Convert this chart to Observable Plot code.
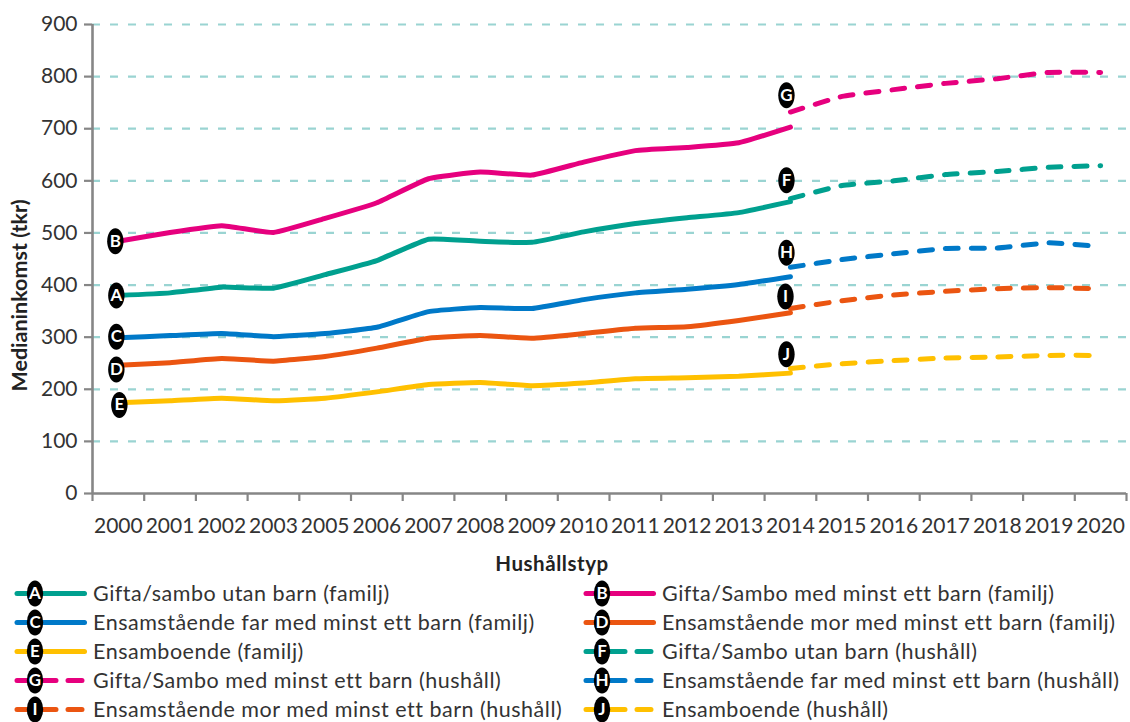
<!DOCTYPE html>
<html lang="sv"><head><meta charset="utf-8">
<script src="https://cdn.jsdelivr.net/npm/d3@7"></script>
<script src="https://cdn.jsdelivr.net/npm/@observablehq/plot@0.6"></script>
<style>
html,body{margin:0;padding:0;background:#fff;overflow:hidden;height:722px}
body{font-family:Lato,sans-serif;color:#333;width:1130px}
#t{position:absolute;left:0;width:1104px;top:551px;text-align:center;font:bold 20.5px Lato,sans-serif;letter-spacing:.55px;color:#222}
#l{position:absolute;left:0;top:579px;width:1130px;display:grid;grid-template-columns:569px 561px;grid-auto-rows:28.9px}
.i{display:flex;align-items:center;height:28.9px;font-size:21.5px;letter-spacing:.51px;white-space:nowrap;color:#333}
.i svg{flex:none;overflow:visible}
</style></head><body>
<div id="c"></div><div id="t">Hushållstyp</div><div id="l"></div>
<script>
const years=["2000","2001","2002","2003","2005","2006","2007","2008","2009","2010","2011","2012","2013","2014","2015","2016","2017","2018","2019","2020"];
const famYears=years.slice(0,14), hhYears=years.slice(13);
const yTicks=[0,100,200,300,400,500,600,700,800,900];
const gridTicks=yTicks.slice(1);
const teal="#00A08F",pink="#E6007E",blue="#0079C8",orange="#EB5511",yellow="#FFC000";
const A=[380,385,396,394,420,447,488,484,482,502,518,529,539,560];
const B=[484,501,514,501,528,558,604,617,611,636,658,664,673,703];
const C=[299,303,307,301,307,319,349,357,355,372,385,392,401,416];
const D=[246,251,259,254,263,279,298,303,298,307,317,320,332,347];
const E=[174,178,183,178,183,195,209,213,207,212,220,222,225,231];
const F=[566,591,600,612,618,626,629];
const G=[732,762,775,787,796,808,808];
const H=[434,449,460,470,471,481,474];
const I=[355,370,381,388,393,395,393];
const J=[240,249,255,260,262,265,265];
const letters=["A","B","C","D","E","F","G","H","I","J"];
const names=["Gifta/sambo utan barn (familj)","Gifta/Sambo med minst ett barn (familj)","Ensamstående far med minst ett barn (familj)","Ensamstående mor med minst ett barn (familj)","Ensamboende (familj)","Gifta/Sambo utan barn (hushåll)","Gifta/Sambo med minst ett barn (hushåll)","Ensamstående far med minst ett barn (hushåll)","Ensamstående mor med minst ett barn (hushåll)","Ensamboende (hushåll)"];
const colors=[teal,pink,blue,orange,yellow,teal,pink,blue,orange,yellow];
const values=[A,B,C,D,E,F,G,H,I,J];
const labelY=[380,484,301,238,170,601,764,462,378,267];
const labelX=["2000","2000","2000","2000","2000","2014","2014","2014","2014","2014"];
const labelDx=[-2,-3,-2,-2,1,-4,-4,-4,-5,-4];

const rows=letters.map((k,i)=>({k,i,color:colors[i],dashed:i>=5,pts:values[i].map((v,j)=>({x:(i<5?famYears:hhYears)[j],y:v,k,color:colors[i]}))}));
const labels=letters.map((k,i)=>({k,x:labelX[i],y:labelY[i],dx:labelDx[i]}));
const ellipse={draw(c,size){const rx=8.2,ry=13,kx=rx*.5523,ky=ry*.5523;
 c.moveTo(-rx,0);c.bezierCurveTo(-rx,-ky,-kx,-ry,0,-ry);c.bezierCurveTo(kx,-ry,rx,-ky,rx,0);c.bezierCurveTo(rx,ky,kx,ry,0,ry);c.bezierCurveTo(-kx,ry,-rx,ky,-rx,0);c.closePath();}};
const band=25.85;
const lineMarks=rows.map(r=>Plot.line(r.pts,{x:"x",y:"y",stroke:r.color,strokeWidth:5,curve:"cardinal",tension:.6,strokeLinecap:"round",strokeLinejoin:"round",...(r.dashed?{strokeDasharray:"13,13"}:{})}));
const labelMarks=labels.flatMap(l=>[
 Plot.dot([l],{x:"x",y:"y",dx:l.dx,symbol:ellipse,r:10,fill:"#000",stroke:"none"}),
 Plot.text([l],{x:"x",y:"y",dx:l.dx,text:"k",fill:"#fff",fontSize:17,fontWeight:"bold",fontFamily:"Lato,sans-serif"})
]);
const chart=Plot.plot({
 width:1130,height:545,marginLeft:92,marginRight:4,marginTop:24,marginBottom:52,
 style:{background:"#fff",fontFamily:"Lato,sans-serif",fontSize:"21px",color:"#333",overflow:"visible"},
 x:{type:"point",domain:years,padding:.5,round:false,label:null},
 y:{domain:[0,900],label:null},
 marks:[
  Plot.gridY(gridTicks,{stroke:"#9AD4D2",strokeOpacity:1,strokeWidth:2.2,strokeDasharray:"8,10"}),
  Plot.axisY({ticks:yTicks,tickSize:8,tickPadding:7,stroke:"#868686",strokeWidth:2.2,fill:"#333",strokeOpacity:1,label:null,tickFormat:d=>String(d)}),
  Plot.axisX({ticks:years,tickSize:8,text:null,label:null,dx:-band,stroke:"#868686",strokeWidth:2.2,strokeOpacity:1}),
  Plot.axisX({ticks:years.slice(-1),tickSize:8,text:null,label:null,dx:band,stroke:"#868686",strokeWidth:2.2,strokeOpacity:1}),
  Plot.axisX({ticks:years,tickSize:0,tickPadding:25,label:null,fill:"#333",stroke:"none"}),
  Plot.ruleX([0],{x:()=>years[0],dx:-band,y1:0,y2:900,stroke:"#868686",strokeWidth:2.6}),
  Plot.ruleY([0],{stroke:"#868686",strokeWidth:2.4}),
  ...lineMarks,
  ...labelMarks,
  Plot.text(["Medianinkomst (tkr)"],{frameAnchor:"left",textAnchor:"middle",text:d=>d,rotate:-90,dx:-72,dy:36.5,fontWeight:"bold",fontSize:21.5,fill:"#222",fontFamily:"Lato,sans-serif",style:{letterSpacing:"1px"}})
 ]
});
document.getElementById("c").appendChild(chart);
const NS="http://www.w3.org/2000/svg";
const L=document.getElementById("l");
rows.forEach(r=>{
 const d=document.createElement("div");d.className="i";
 const s=d3.select(document.createElementNS(NS,"svg")).attr("width",93).attr("height",29);
 const cx=r.i%2?33:35;
 s.append("line").attr("x1",17).attr("x2",84.5).attr("y1",14.5).attr("y2",14.5).attr("stroke",r.color).attr("stroke-width",5).attr("stroke-linecap","round").attr("stroke-dasharray",r.dashed?"39 12 14":null);
 s.append("ellipse").attr("cx",cx).attr("cy",14.5).attr("rx",8.2).attr("ry",13).attr("fill","#000");
 s.append("text").attr("x",cx).attr("y",20).attr("text-anchor","middle").attr("fill","#fff").attr("font-size",17).attr("font-weight","bold").style("letter-spacing","0").text(r.k);
 d.appendChild(s.node());
 const t=document.createElement("span");t.textContent=names[r.i];d.appendChild(t);
 L.appendChild(d);
});
</script>
</body></html>
